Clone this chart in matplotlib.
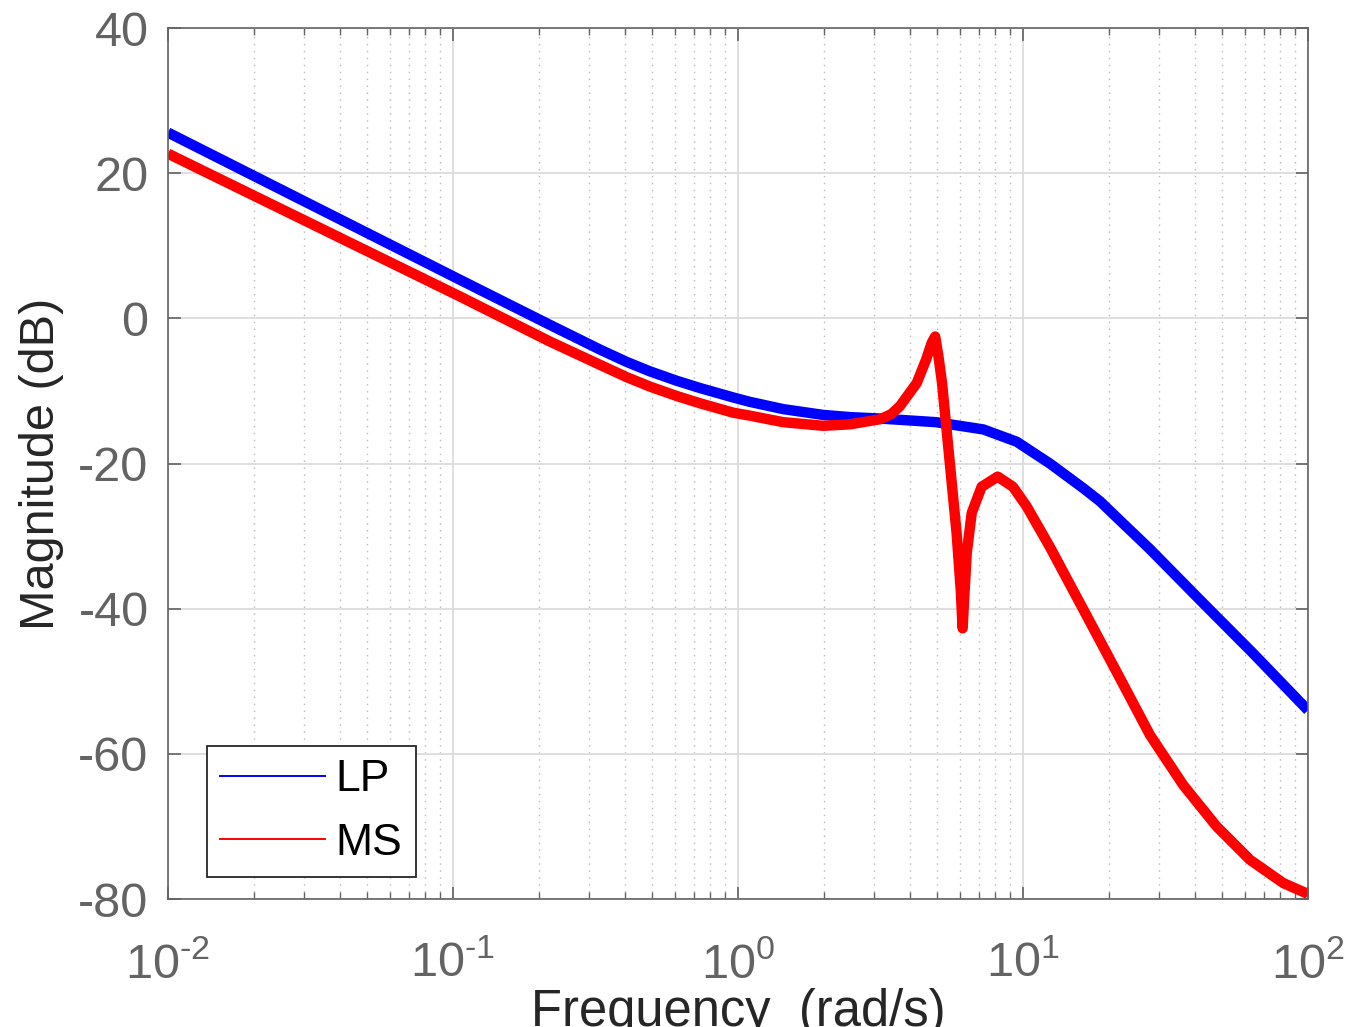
import matplotlib.pyplot as plt
from matplotlib.lines import Line2D
from matplotlib.ticker import FixedLocator, FixedFormatter
import numpy as np

# Bode magnitude curves
freq_lp = [0.01, 0.106, 0.219, 0.328, 0.407, 0.491, 0.61, 0.736, 0.963, 1.10,
           1.44, 1.99, 2.47, 3.15, 4.95, 5.55, 7.26, 9.51, 12.43, 16.28,
           18.63, 21.3, 27.9, 41.8, 64.0, 100.0]
mag_lp = [25.6, 5.3, -0.9, -4.3, -6.0, -7.3, -8.6, -9.6, -10.9, -11.5,
          -12.5, -13.3, -13.6, -13.8, -14.3, -14.6, -15.3, -17.0, -20.0, -23.4,
          -25.2, -27.4, -31.8, -38.8, -46.1, -54.0]

freq_ms = [0.01, 0.106, 0.219, 0.328, 0.407, 0.491, 0.61, 0.736, 0.963, 1.10,
           1.44, 1.99, 2.47, 3.15, 3.45, 3.70, 4.24, 4.57, 4.78, 4.92,
           5.05, 5.20, 5.43, 5.85, 6.05, 6.14, 6.22, 6.35, 6.61, 7.16,
           8.15, 9.22, 10.30, 12.43, 16.28, 21.3, 27.9, 36.5, 47.8, 62.6,
           81.9, 100.0]
mag_ms = [22.7, 3.0, -3.2, -6.4, -8.1, -9.4, -10.7, -11.7, -13.0, -13.4,
          -14.3, -14.8, -14.6, -13.9, -13.2, -12.1, -8.9, -5.7, -3.4, -2.5,
          -5.2, -8.9, -16.5, -29.6, -37.5, -42.7, -38.5, -32.3, -26.8, -23.2,
          -21.8, -23.2, -25.9, -31.5, -40.1, -48.7, -57.4, -64.3, -70.0, -74.6,
          -77.8, -79.3]

labels = ['LP', 'MS']
yticks = [-80, -60, -40, -20, 0, 20, 40]
xticks = [1e-2, 1e-1, 1e0, 1e1, 1e2]
xticklabels = [r'$10^{\text{-}2}$', r'$10^{\text{-}1}$', r'$10^{0}$',
               r'$10^{1}$', r'$10^{2}$']

plt.rcParams['font.family'] = ['Liberation Sans', 'DejaVu Sans']
plt.rcParams['mathtext.fontset'] = 'custom'
plt.rcParams['mathtext.rm'] = 'Liberation Sans'
plt.rcParams['mathtext.it'] = 'Liberation Sans'
plt.rcParams['axes.unicode_minus'] = False

fig = plt.figure(figsize=(13.49, 10.27), dpi=100)
ax = fig.add_axes([0.1245, 0.1246, 0.8451, 0.8481])

ax.semilogx(freq_lp, mag_lp, color='#0000ff', lw=7.5, solid_capstyle='butt',
            solid_joinstyle='round')
ax.semilogx(freq_ms, mag_ms, color='#ff0000', lw=7.5, solid_capstyle='butt',
            solid_joinstyle='round')

ax.set_xlim(1e-2, 1e2)
ax.set_ylim(-80, 40)
ax.set_yticks(yticks)
ax.xaxis.set_major_locator(FixedLocator(xticks))
ax.xaxis.set_major_formatter(FixedFormatter(xticklabels))

ax.grid(True, which='major', color='#dcdcdc', lw=1.3, ls='-')
ax.grid(True, which='minor', axis='x', color='#b8b8b8', lw=1.0, ls=(0, (1, 4)))
ax.set_axisbelow(True)

gray = '#636363'
for s in ax.spines.values():
    s.set_color(gray)
    s.set_linewidth(1.2)
ax.tick_params(which='both', direction='in', top=True, right=True, color=gray,
               labelcolor=gray, labelsize=35)
ax.tick_params(which='major', length=9, width=1.2)
ax.tick_params(axis='y', pad=14)
ax.tick_params(axis='x', which='major', pad=31)
ax.tick_params(which='minor', length=5, width=1.0)

ax.set_xlabel('Frequency  (rad/s)', fontsize=36.5, color='#262626', labelpad=0)
ax.set_ylabel('Magnitude (dB)', fontsize=35, color='#262626', labelpad=10)

handles = [Line2D([], [], color='#0000ff', lw=1.4),
           Line2D([], [], color='#ff0000', lw=1.4)]
leg = ax.legend(handles, labels, loc='lower left', bbox_to_anchor=(0.0342, 0.0253),
                borderaxespad=0, fontsize=32, handlelength=2.35, handletextpad=0.25,
                labelspacing=0.5, borderpad=0.3, fancybox=False, framealpha=1)
leg.get_frame().set_edgecolor('#262626')
leg.get_frame().set_linewidth(1.3)

fig.savefig('out.png', dpi=100)
